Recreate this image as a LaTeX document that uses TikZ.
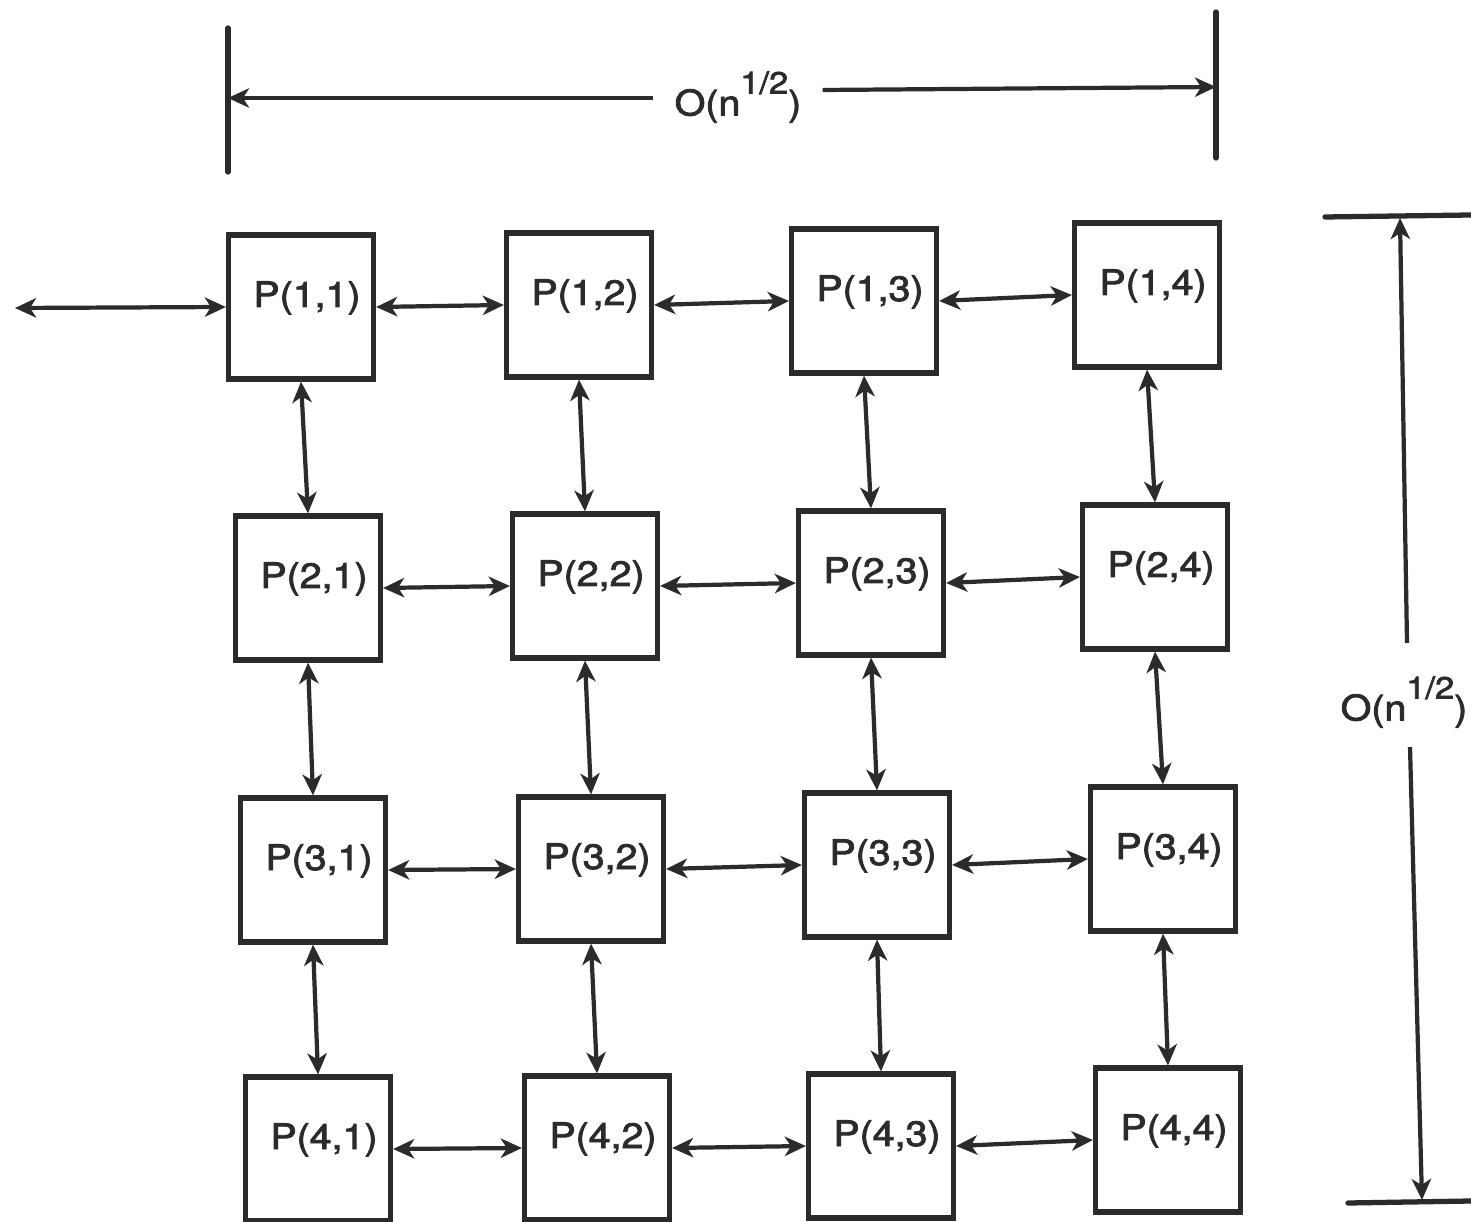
\documentclass[tikz,border=0pt]{standalone}
\usepackage{fontspec}
\setmainfont{TeX Gyre Heros}[FakeBold=2.2]
\usetikzlibrary{arrows.meta}
\definecolor{ink}{HTML}{2B2B2B}
\newcommand{\ptxt}[1]{\hspace*{0.24cm}\scalebox{1.12}[1]{#1}}
\newcommand{\olabel}{\scalebox{1.12}[1]{O(n\raisebox{0.62em}{\fontsize{17.5}{17.5}\selectfont 1/2})}}
\tikzset{
  tip/.tip={Stealth[length=12pt,width=11pt,inset=3.5pt]},
  pbox/.style={draw=ink, line width=3pt, minimum width=2.9cm, minimum height=2.88cm,
    inner sep=0pt, text height=0.45cm, text depth=0.45cm, font=\fontsize{20}{22}\selectfont, text=ink},
  link/.style={draw=ink, line width=2.4pt, tip-tip},
  oneway/.style={draw=ink, line width=2.4pt, -tip},
  bar/.style={draw=ink, line width=3pt, line cap=round},
  dimlabel/.style={font=\fontsize{20}{22}\selectfont, text=ink, inner xsep=12pt, inner ysep=2pt}
}
\begin{document}
\begin{tikzpicture}[x=0.02cm,y=-0.02cm]
\useasboundingbox[fill=white] (0,0) rectangle (1471,1222);
% boxes
\node[pbox] (p11) at (301,307) {\ptxt{P(1,1)}};
\node[pbox] (p12) at (579,305) {\ptxt{P(1,2)}};
\node[pbox] (p13) at (864,301) {\ptxt{P(1,3)}};
\node[pbox] (p14) at (1147,295) {\ptxt{P(1,4)}};
\node[pbox] (p21) at (308,588) {\ptxt{P(2,1)}};
\node[pbox] (p22) at (585,586) {\ptxt{P(2,2)}};
\node[pbox] (p23) at (871,583) {\ptxt{P(2,3)}};
\node[pbox] (p24) at (1155,577) {\ptxt{P(2,4)}};
\node[pbox] (p31) at (313,870) {\ptxt{P(3,1)}};
\node[pbox] (p32) at (591,869) {\ptxt{P(3,2)}};
\node[pbox] (p33) at (877,865) {\ptxt{P(3,3)}};
\node[pbox] (p34) at (1163,859) {\ptxt{P(3,4)}};
\node[pbox] (p41) at (318,1149) {\ptxt{P(4,1)}};
\node[pbox] (p42) at (597,1148) {\ptxt{P(4,2)}};
\node[pbox] (p43) at (881,1146) {\ptxt{P(4,3)}};
\node[pbox] (p44) at (1168,1140) {\ptxt{P(4,4)}};
% horizontal links
\foreach \r in {1,2,3,4}{
  \draw[link] (p\r1.east) -- (p\r2.west);
  \draw[link] (p\r2.east) -- (p\r3.west);
  \draw[link] (p\r3.east) -- (p\r4.west);
}
% vertical links
\foreach \c in {1,2,3,4}{
  \draw[link] (p1\c.south) -- (p2\c.north);
  \draw[link] (p2\c.south) -- (p3\c.north);
  \draw[link] (p3\c.south) -- (p4\c.north);
}
% external link
\coordinate (ext) at (15,308);
\draw[link] (ext) -- (p11.west);
% top dimension
\coordinate (tl1) at (228,28); \coordinate (tl2) at (228,172);
\coordinate (tr1) at (1216,12); \coordinate (tr2) at (1216,158);
\draw[bar] (tl1) -- (tl2);
\draw[bar] (tr1) -- (tr2);
\node[dimlabel] (toplab) at (738,97) {\olabel};
\coordinate (tla) at (228,98);
\coordinate (tra) at (1216,87);
\draw[oneway] (toplab.west |- 0,98) -- (tla);
\draw[oneway] (toplab.east |- 0,90) -- (tra);
% right dimension
\coordinate (rt1) at (1325,217); \coordinate (rt2) at (1471,215);
\coordinate (rb1) at (1348,1203); \coordinate (rb2) at (1471,1201);
\draw[bar] (rt1) -- (rt2);
\draw[bar] (rb1) -- (rb2);
\node[dimlabel] (rightlab) at (1404,702) {\olabel};
\coordinate (rta) at (1400,218);
\coordinate (rba) at (1422,1200);
\draw[oneway] (1407,643) -- (rta);
\draw[oneway] (1410,747) -- (rba);
\end{tikzpicture}
\end{document}
